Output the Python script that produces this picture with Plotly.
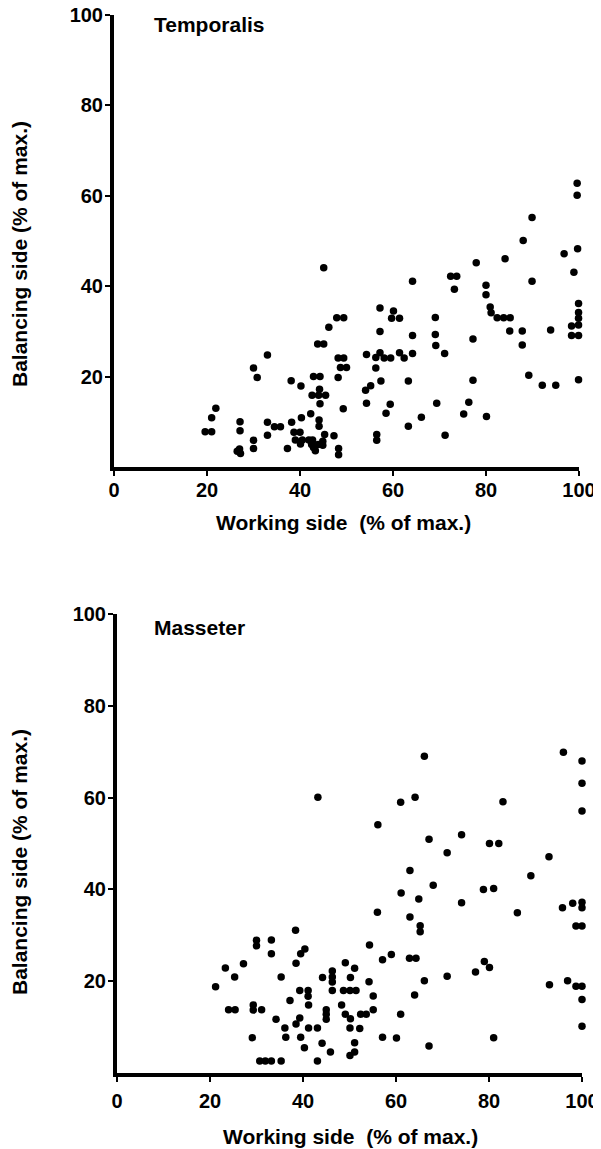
import plotly.graph_objects as go

# ---------------- data ----------------
temporalis_working = [
    45.1, 47.9, 49.4, 46.2, 43.8, 45.1, 33.0, 48.2, 49.4, 48.7, 50.0, 30.0, 30.8, 42.9, 44.3,
    48.2, 38.1, 40.2, 44.2, 42.6, 44.0, 45.5, 44.3, 21.9, 49.3, 21.0, 42.3, 40.3, 27.1, 33.0,
    34.5, 35.8, 38.2, 44.1, 44.1, 19.6, 21.0, 27.1, 33.0, 38.7, 40.0, 45.3, 47.3, 30.0, 39.0,
    40.5, 41.9, 42.7, 40.1, 44.9, 42.5, 43.9, 44.9, 42.9, 30.0, 37.3, 43.3, 26.5, 27.2, 27.0,
    48.3, 48.3,
    99.6, 99.6, 89.9, 88.0, 99.7, 96.8, 84.1, 77.9, 98.9, 64.2, 89.9, 72.4, 73.7, 73.2, 80.0,
    80.0, 80.9, 81.1, 82.4, 83.8, 85.2, 85.1, 87.8, 87.8, 93.9, 99.9, 99.9, 99.9, 99.9, 98.4,
    98.4, 99.9, 99.9, 89.2, 92.1, 95.0, 77.2, 77.2, 76.3, 75.2, 80.1, 69.1, 69.1, 69.2, 71.1,
    69.4, 71.2, 64.2, 64.2, 63.3, 66.1, 63.3, 60.1, 59.7, 61.4, 61.4, 62.4, 57.2, 57.2, 54.3,
    56.3, 57.2, 58.1, 59.5, 56.3, 57.4, 54.1, 55.2, 54.3, 58.5, 59.4, 56.5, 56.5,
]
temporalis_balancing = [
    44.1, 33.0, 33.0, 30.9, 27.2, 27.2, 24.8, 24.1, 24.1, 22.0, 22.0, 21.9, 19.8, 20.0, 20.0,
    19.8, 19.1, 17.9, 17.2, 15.9, 15.9, 15.9, 14.0, 13.0, 12.9, 10.9, 11.8, 10.9, 10.0, 9.9,
    8.9, 8.9, 9.9, 10.4, 9.0, 7.8, 7.8, 8.0, 7.0, 7.7, 7.7, 7.2, 6.9, 5.9, 6.0,
    6.0, 6.0, 6.0, 5.1, 5.7, 5.0, 5.0, 4.8, 4.3, 4.1, 4.1, 3.6, 3.5, 3.0, 4.0,
    4.1, 2.7,
    62.8, 60.1, 55.2, 50.1, 48.3, 47.2, 46.1, 45.2, 43.1, 41.1, 41.1, 42.2, 42.2, 39.3, 40.2,
    38.1, 35.4, 34.1, 33.0, 33.0, 33.0, 30.1, 30.1, 27.0, 30.3, 36.2, 34.2, 32.9, 31.4, 31.2,
    29.1, 29.1, 19.3, 20.3, 18.1, 18.1, 28.3, 19.2, 14.3, 11.7, 11.2, 33.1, 29.3, 26.9, 25.1,
    14.1, 7.0, 29.1, 25.1, 19.0, 11.0, 9.0, 34.5, 32.9, 32.9, 25.3, 24.1, 35.2, 30.0, 24.9,
    24.2, 25.3, 24.1, 24.1, 21.9, 19.0, 17.0, 18.0, 14.1, 11.9, 13.9, 7.2, 5.9,
]

masseter_working = [
    21.2, 23.3, 25.3, 27.2, 24.0, 25.4, 30.0, 30.0, 33.2, 33.2, 35.3, 29.3, 29.3, 31.1, 29.1,
    30.7, 31.9, 33.2, 35.3, 34.2, 37.2, 36.1, 36.3, 38.4, 39.5, 40.4, 38.5, 39.3, 39.3, 38.5,
    39.5, 40.3, 41.1, 41.1, 41.2, 41.2, 43.1, 43.1, 44.1, 44.2, 45.0, 45.0, 45.0, 46.3, 46.3,
    46.3, 46.3, 45.9, 49.1, 51.1, 50.2, 48.7, 50.1, 51.4, 48.3, 49.1, 50.2, 50.1, 51.1, 50.1,
    51.1, 54.3, 54.2, 55.1, 52.2, 52.4, 53.6, 55.1, 56.1, 56.0, 57.1, 59.0, 57.1, 60.1, 61.0,
    64.1, 66.1, 63.0, 61.1, 64.9, 63.0, 65.2, 65.2, 62.9, 64.3, 61.0, 64.0, 66.1, 67.1, 67.1,
    68.0, 71.0, 74.1, 74.1, 71.0, 77.1, 79.0, 80.1, 78.8, 81.0, 80.1, 82.1, 83.0, 81.0, 86.1,
    89.0, 92.9, 93.0, 96.0, 95.8, 98.0, 96.9, 98.7, 100.0, 98.7, 100.0, 100.0, 100.0, 100.0, 100.0,
    100.0, 100.0, 100.0, 43.2,
]
masseter_balancing = [
    18.8, 22.9, 20.9, 23.8, 13.8, 13.8, 28.9, 27.7, 29.0, 26.0, 20.9, 14.8, 13.7, 13.8, 7.7,
    2.6, 2.6, 2.6, 2.6, 11.7, 15.8, 9.8, 7.8, 31.1, 26.0, 27.0, 23.9, 18.0, 12.0, 10.7,
    7.8, 5.5, 18.0, 16.7, 14.8, 9.8, 9.8, 2.6, 6.5, 20.8, 13.8, 12.8, 11.7, 22.2, 20.9,
    19.8, 18.0, 4.6, 24.0, 22.8, 20.8, 18.0, 18.0, 18.0, 14.8, 12.8, 11.8, 9.8, 6.6, 3.8,
    4.6, 27.9, 19.9, 16.8, 9.7, 12.8, 12.8, 13.8, 54.1, 35.0, 24.7, 25.8, 7.8, 7.6, 59.0,
    60.1, 69.0, 44.1, 39.2, 37.9, 34.0, 32.1, 30.8, 25.0, 25.0, 12.8, 17.0, 20.1, 5.9, 50.9,
    40.9, 48.0, 51.9, 37.1, 21.1, 22.0, 24.3, 23.0, 40.0, 40.2, 50.0, 50.0, 59.1, 7.7, 34.9,
    43.0, 47.1, 19.2, 69.9, 36.0, 37.0, 20.1, 32.0, 32.0, 18.9, 18.9, 68.0, 63.1, 57.1, 37.2,
    36.0, 16.0, 10.2, 60.1,
]

x_tick_values = [0, 20, 40, 60, 80, 100]
y_tick_values = [20, 40, 60, 80, 100]
panel_names = ["Temporalis", "Masseter"]
x_title = "Working side  (% of max.)"
y_title = "Balancing side (% of max.)"

# ---------------- figure ----------------
PAGE_OFFSET = 8                       # default body margin of the HTML page
W, H = 601 - PAGE_OFFSET, 1149 - PAGE_OFFSET
FONT = "Liberation Sans, Arial, Helvetica, sans-serif"


def px_x(p):
    """screen pixel (from left) -> paper fraction"""
    return (p - PAGE_OFFSET) / W


def px_y(p):
    """screen pixel (from top) -> paper fraction"""
    return 1 - (p - PAGE_OFFSET) / H


fig = go.Figure()
marker = dict(color="black", size=7.5, line=dict(width=0))
fig.add_trace(go.Scatter(x=temporalis_working, y=temporalis_balancing, mode="markers",
                         marker=marker, xaxis="x", yaxis="y", cliponaxis=False,
                         showlegend=False, hoverinfo="skip"))
fig.add_trace(go.Scatter(x=masseter_working, y=masseter_balancing, mode="markers",
                         marker=marker, xaxis="x2", yaxis="y2", cliponaxis=False,
                         showlegend=False, hoverinfo="skip"))

common_axis = dict(
    showline=True, linecolor="black", linewidth=4, mirror=False, automargin=False,
    showgrid=False, zeroline=False, ticks="outside", ticklen=5, tickwidth=2,
    tickcolor="black", range=[0, 100], fixedrange=True, ticklabeloverflow="allow",
    tickfont=dict(family=FONT, size=20, color="black", weight="bold"),
)

fig.update_layout(
    width=W, height=H,
    margin=dict(l=0, r=0, t=0, b=0, autoexpand=False),
    paper_bgcolor="white", plot_bgcolor="white",
    xaxis=dict(common_axis, domain=[px_x(114), px_x(579)], anchor="y",
               tickvals=x_tick_values, ticklabelstandoff=-3),
    yaxis=dict(common_axis, domain=[px_y(467), px_y(15)], anchor="x",
               tickvals=y_tick_values, ticklabelstandoff=-2),
    xaxis2=dict(common_axis, domain=[px_x(117), px_x(582)], anchor="y2",
                tickvals=x_tick_values, ticklabelstandoff=2),
    yaxis2=dict(common_axis, domain=[px_y(1073), px_y(614)], anchor="x2",
                tickvals=y_tick_values, ticklabelstandoff=-2),
)

annotations = []
title_font = dict(family=FONT, size=21, color="black", weight="bold")
for name, yc in zip(panel_names, [24, 627]):
    annotations.append(dict(text=name, x=px_x(152), y=px_y(yc), xref="paper", yref="paper",
                            xanchor="left", yanchor="middle", showarrow=False, font=title_font))
for xc, yc in [(343, 522), (350, 1136)]:
    annotations.append(dict(text=x_title, x=px_x(xc), y=px_y(yc), xref="paper", yref="paper",
                            xanchor="center", yanchor="middle", showarrow=False, font=title_font))
for yc in [254, 862]:
    annotations.append(dict(text=y_title, x=px_x(19), y=px_y(yc), xref="paper", yref="paper",
                            xanchor="center", yanchor="middle", textangle=-90,
                            showarrow=False, font=title_font))
fig.update_layout(annotations=annotations)

fig.write_html("out.html")
